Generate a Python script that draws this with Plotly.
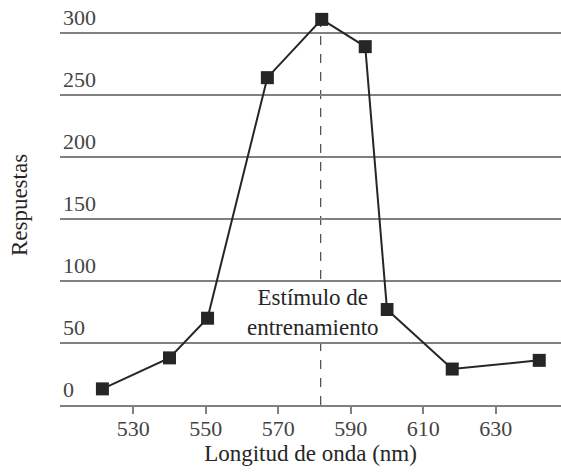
"""Generalization gradient: responses vs wavelength."""

import plotly.graph_objects as go

# data
wavelength = [521.5, 540, 550.5, 567, 582, 594, 600, 618, 642]
responses = [13, 38, 70, 264, 311, 289, 77, 29, 36]

x_ticks = [530, 550, 570, 590, 610, 630]
y_ticks = [0, 50, 100, 150, 200, 250, 300]

training_stimulus = 581.7
label_text = "Estímulo de<br>entrenamiento"

FONT = "Liberation Serif"
GRID = "#808080"
INK = "#262626"

fig = go.Figure()

fig.add_trace(go.Scatter(
    x=wavelength,
    y=responses,
    mode="lines+markers",
    line=dict(color=INK, width=2),
    marker=dict(symbol="square", size=13, color=INK),
    showlegend=False,
))

# dashed line at the training stimulus
fig.add_shape(
    type="line",
    x0=training_stimulus, x1=training_stimulus,
    y0=0, y1=318,
    xref="x", yref="y",
    line=dict(color="#555555", width=1.3, dash="dash"),
    layer="below",
)

fig.add_annotation(
    x=579.7, y=75,
    text=label_text,
    showarrow=False,
    bgcolor="white",
    font=dict(family=FONT, size=23, color=INK),
    align="center",
)

fig.update_xaxes(
    range=[509.8, 648],
    tickvals=x_ticks,
    ticks="outside",
    ticklen=7,
    tickcolor=GRID,
    tickwidth=1.5,
    ticklabelstandoff=-4,
    showgrid=False,
    zeroline=False,
    showline=True,
    linecolor=GRID,
    linewidth=2,
    tickfont=dict(family=FONT, size=22, color="#444444"),
    title=dict(text="Longitud de onda (nm)",
               font=dict(family=FONT, size=23, color=INK), standoff=2),
)

fig.update_yaxes(
    range=[0, 322.6],
    tickvals=y_ticks,
    showgrid=True,
    gridcolor=GRID,
    gridwidth=2,
    zeroline=False,
    showline=False,
    ticks="",
    ticklabelposition="inside top",
    tickfont=dict(family=FONT, size=22, color="#444444"),
    title=dict(text="Respuestas",
               font=dict(family=FONT, size=23, color=INK), standoff=28),
)

fig.update_layout(
    width=561,
    height=473,
    margin=dict(l=60, r=0, t=5, b=68),
    plot_bgcolor="white",
    paper_bgcolor="white",
)

fig.write_html(
    "out.html",
    config={"displayModeBar": False},
    post_script="document.body.style.margin='0';",
)
